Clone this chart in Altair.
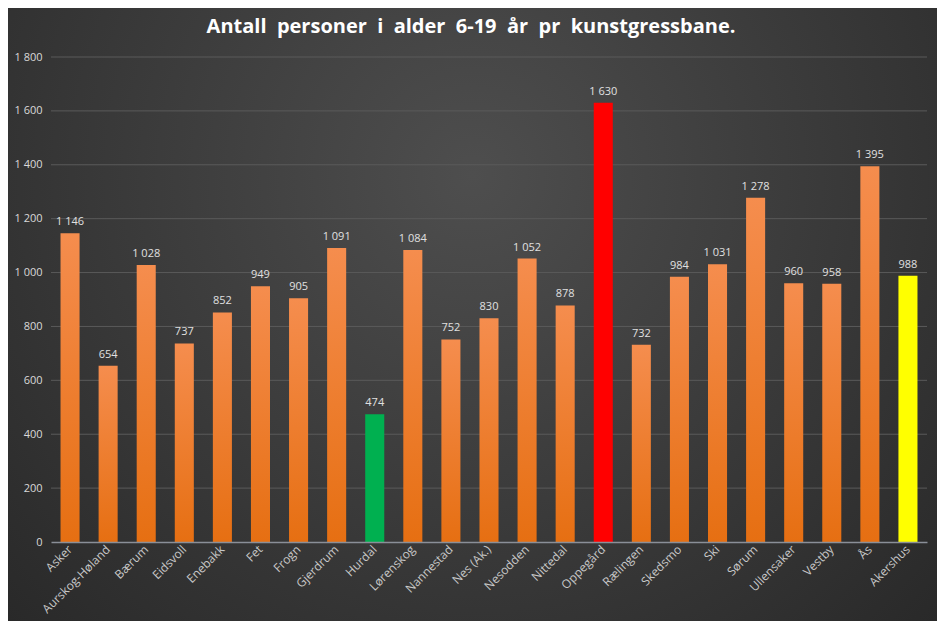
import altair as alt
import pandas as pd

names = ["Asker", "Aurskog-Høland", "Bærum", "Eidsvoll", "Enebakk", "Fet", "Frogn",
         "Gjerdrum", "Hurdal", "Lørenskog", "Nannestad", "Nes (Ak.)", "Nesodden",
         "Nittedal", "Oppegård", "Rælingen", "Skedsmo", "Ski", "Sørum", "Ullensaker",
         "Vestby", "Ås", "Akershus"]
values = [1146, 654, 1028, 737, 852, 949, 905, 1091, 474, 1084, 752, 830, 1052,
          878, 1630, 732, 984, 1031, 1278, 960, 958, 1395, 988]
kinds = ["normal"] * len(names)
kinds[names.index("Hurdal")] = "lowest"
kinds[names.index("Oppegård")] = "highest"
kinds[names.index("Akershus")] = "county"
y_ticks = list(range(0, 1801, 200))
title_words = ["Antall", "personer", "i", "alder", "6-19", "år", "pr", "kunstgressbane."]
title_text = "\u00a0\u00a0".join(title_words)

df = pd.DataFrame({"name": names, "value": values, "kind": kinds})

W, H = 876, 485
PAD = {"left": 43, "top": 49, "right": 10, "bottom": 79}

x_enc = alt.X("name:N", sort=names, title=None,
              scale=alt.Scale(paddingInner=0.5, paddingOuter=0.25),
              axis=alt.Axis(labelAngle=-45, labelAlign="right", labelBaseline="middle",
                            labelColor="#c8c8c8", labelFontSize=12, labelPadding=5,
                            ticks=False, domainColor="#8a8f98", domainWidth=1.5,
                            labelFont="Open Sans", zindex=1))
y_axis = alt.Axis(values=y_ticks, grid=False, domain=False, ticks=False,
                  labelColor="#d9d9d9", labelFontSize=11, labelPadding=9,
                  labelFont="Open Sans", zindex=1,
                  labelExpr="replace(format(datum.value, ','), ',', ' ')")
y_enc = alt.Y("value:Q", title=None, scale=alt.Scale(domain=[0, 1800]), axis=y_axis)

bg = alt.Chart(pd.DataFrame({"a": [0]})).mark_rect(
    clip=False,
    color=alt.RadialGradient(
        gradient="radial", x1=0.5, y1=0.35, r1=0.0, x2=0.5, y2=0.35, r2=0.75,
        stops=[alt.GradientStop(color="#4e4e4e", offset=0),
               alt.GradientStop(color="#262626", offset=1)])
).encode(
    x=alt.value(-PAD["left"]), x2=alt.value(W + PAD["right"]),
    y=alt.value(-PAD["top"]), y2=alt.value(H + PAD["bottom"])
)

grid = alt.Chart(pd.DataFrame({"value": y_ticks[1:]})).mark_rule(
    color="#5a5a5a", strokeWidth=1
).encode(y=y_enc)

title = alt.Chart(pd.DataFrame({"t": [title_text]})).mark_text(
    color="#ffffff", fontSize=20, fontWeight="bold", font="Open Sans",
    align="center", baseline="middle"
).encode(x=alt.value(W / 2 - 18), y=alt.value(-30), text="t:N")

base = alt.Chart(df)

orange = base.transform_filter("datum.kind == 'normal'").mark_bar(
    color=alt.LinearGradient(
        gradient="linear", x1=0, x2=0, y1=0, y2=1,
        stops=[alt.GradientStop(color="#f58d4e", offset=0),
               alt.GradientStop(color="#e66f12", offset=1)])
).encode(x=x_enc, y=y_enc)

special = base.transform_filter("datum.kind != 'normal'").mark_bar().encode(
    x=x_enc, y=y_enc,
    color=alt.Color("kind:N", legend=None,
                    scale=alt.Scale(domain=["lowest", "highest", "county"],
                                    range=["#00b050", "#ff0000", "#ffff00"]))
)

labels = base.transform_calculate(
    label="replace(format(datum.value, ','), ',', ' ')"
).mark_text(dy=-11, color="#e0e0e0", fontSize=11, font="Open Sans").encode(
    x=x_enc, y=y_enc, text="label:N"
)

chart = alt.layer(bg, grid, orange, special, labels, title).properties(
    width=W, height=H,
    padding=PAD,
    autosize=alt.AutoSizeParams(type="none"),
    background="#2a2a2a",
).configure_view(stroke=None)

chart.save("out.html", embed_options={"renderer": "svg", "actions": False})
